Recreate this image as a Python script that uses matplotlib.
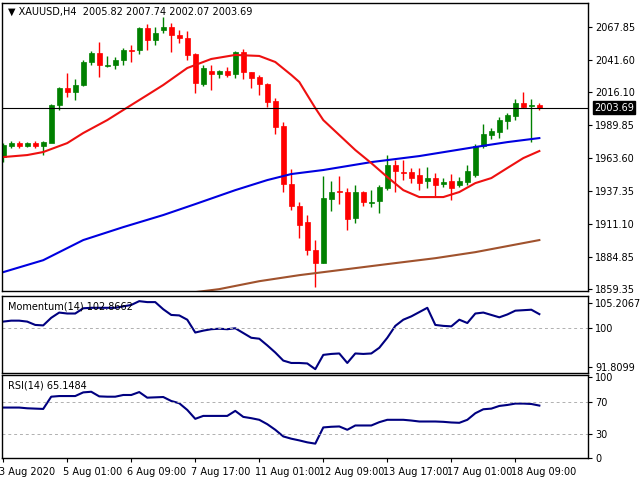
import matplotlib
matplotlib.use("Agg")
import matplotlib.pyplot as plt
import matplotlib.transforms as mt
import numpy as np

opens = [1964.4,1973.2,1975.5,1973.2,1975.5,1973.2,1975.5,2005.8,2019.3,2016.1,2021.7,2040.0,2047.2,2036.8,2037.6,2041.6,2049.5,2049.5,2067.1,2057.5,
         2065.5,2067.9,2061.5,2059.1,2046.4,2022.5,2032.8,2030.4,2032.8,2030.4,2047.9,2032.0,2028.1,2022.5,2009.0,1989.1,1942.9,1925.4,1912.7,1890.4,
         1880.1,1931.0,1937.6,1936.6,1915.9,1936.6,1927.8,1929.4,1939.7,1958.0,1952.5,1952.5,1950.1,1945.3,1947.7,1942.9,1945.3,1942.1,1944.5,1950.1,
         1973.2,1981.9,1984.3,1993.0,1997.0,2007.4,2005.0,2005.82]
highs = [1975.5,1977.1,1977.1,1976.3,1977.1,1977.1,2006.6,2020.1,2031.2,2026.5,2041.6,2048.8,2055.9,2044.8,2044.0,2051.1,2053.5,2067.9,2070.2,2067.9,
         2075.8,2071.0,2065.5,2064.7,2047.2,2037.6,2037.6,2033.6,2036.0,2048.8,2050.3,2032.4,2029.7,2023.3,2011.3,1992.3,1954.9,1928.6,1918.3,1898.4,
         1949.3,1945.3,1949.3,1939.7,1942.1,1937.3,1938.1,1942.1,1966.0,1962.0,1962.0,1955.7,1955.7,1956.5,1951.7,1947.7,1950.9,1948.5,1958.0,1974.7,
         1990.7,1987.5,1996.2,1999.4,2010.6,2016.1,2010.6,2007.74]
lows = [1960.4,1971.6,1971.6,1972.4,1971.6,1966.0,2001.0,2001.8,2012.1,2009.8,2020.9,2037.6,2028.1,2036.0,2034.4,2037.6,2040.0,2046.4,2049.5,2053.5,
        2063.1,2047.9,2055.1,2041.6,2015.3,2020.9,2017.7,2027.3,2028.1,2027.3,2026.5,2019.3,2013.7,2004.2,1982.7,1936.6,1922.2,1900.0,1886.4,1861.0,
        1880.1,1921.4,1927.0,1906.3,1911.9,1925.4,1924.6,1919.8,1938.1,1936.6,1946.1,1943.7,1938.1,1939.7,1933.4,1940.5,1930.2,1940.5,1942.1,1948.5,
        1971.6,1978.7,1979.5,1986.7,1993.8,2003.4,1976.3,2002.07]
closes = [1973.9,1975.5,1973.2,1975.5,1973.2,1976.3,2005.8,2019.3,2016.1,2021.7,2040.0,2047.2,2037.6,2037.6,2041.6,2049.5,2048.8,2067.1,2057.5,2063.1,
          2067.9,2061.5,2059.1,2045.6,2023.3,2035.2,2030.4,2032.8,2029.7,2047.9,2032.0,2027.3,2022.5,2008.2,1988.3,1942.9,1925.4,1910.3,1890.4,1880.1,
          1931.8,1936.6,1937.0,1915.1,1936.6,1928.6,1928.6,1940.5,1958.0,1953.3,1952.1,1947.7,1943.7,1947.7,1942.1,1944.5,1939.7,1945.3,1953.3,1973.2,
          1982.7,1985.1,1993.8,1997.8,2007.4,2004.2,2005.82,2003.69]

ma_red_x = [0,3,5,8,10,13,15,18,20,23,26,29,32,34,36,37,38,39,40,42,44,46,48,50,52,55,57,59,61,63,65,67]
ma_red = [1964.4,1966.0,1968.4,1975.5,1983.5,1993.8,2001.8,2013.7,2021.7,2035.2,2042.4,2045.6,2044.8,2040.0,2029.7,2024.1,2013.7,2003.4,
          1993.8,1981.9,1970.0,1959.6,1948.5,1938.1,1932.6,1932.6,1936.6,1943.7,1947.7,1955.7,1963.6,1969.2]
ma_blue_x = [0,5,10,15,20,24,29,33,36,40,46,52,59,63,67]
ma_blue = [1872.9,1882.4,1898.4,1908.7,1918.3,1927.0,1938.1,1946.1,1950.9,1954.1,1960.4,1965.2,1972.4,1976.3,1979.5]
ma_brown_x = [24,27,32,37,42,48,54,59,63,67]
ma_brown = [1857.0,1859.4,1865.7,1870.5,1874.5,1879.3,1884.0,1888.8,1893.6,1898.4]

momentum = [101.3,101.5,101.5,101.3,100.6,100.5,102.1,103.2,103.0,103.0,104.1,104.2,104.2,104.2,104.2,104.5,104.8,105.6,105.4,105.4,
            103.9,102.7,102.6,101.7,99.0,99.4,99.7,99.8,99.7,99.9,98.9,97.9,97.7,96.3,94.8,93.1,92.6,92.6,92.5,91.3,
            94.3,94.5,94.6,92.6,94.6,94.5,94.6,95.8,97.9,100.4,101.7,102.4,103.3,104.2,100.6,100.4,100.3,101.7,101.0,103.0,
            103.2,102.7,102.2,102.8,103.6,103.7,103.8,102.87]
rsi = [62.7,62.7,62.7,61.8,61.4,61.0,76.1,76.9,76.9,76.9,81.4,82.2,76.5,76.1,76.1,78.2,78.2,81.8,74.9,75.3,
       75.7,70.8,68.0,59.8,48.8,52.4,52.4,52.4,52.4,58.6,51.2,49.6,47.6,42.2,35.3,27.1,24.3,22.2,19.8,18.2,
       38.2,39.0,39.4,35.3,40.6,40.6,40.6,44.7,47.6,47.6,47.6,46.7,45.5,45.5,45.5,45.1,44.3,43.9,47.6,55.7,
       60.6,61.4,64.7,65.9,67.6,67.6,67.1,65.15]

price_ticks = [2067.85, 2041.60, 2016.10, 1989.85, 1963.60, 1937.35, 1911.10, 1884.85, 1859.35]
time_ticks = [0, 8, 16, 24, 32, 40, 48, 56, 64]
time_labels = ["3 Aug 2020", "5 Aug 01:00", "6 Aug 09:00", "7 Aug 17:00", "11 Aug 01:00",
               "12 Aug 09:00", "13 Aug 17:00", "17 Aug 01:00", "18 Aug 09:00"]
last_price = 2003.69

plt.rcParams['font.family'] = ['DejaVu Sans']
fs = 7
fig = plt.figure(figsize=(6.4, 4.8), dpi=100)
L, W = 0.003, 0.916
ax1 = fig.add_axes([L, 0.394, W, 0.600])
ax2 = fig.add_axes([L, 0.223, W, 0.160])
ax3 = fig.add_axes([L, 0.045, W, 0.174])
xl = (-0.16, 73.1)

green, red = '#008000', '#ff0000'
x = np.arange(len(opens))
for i in x:
    o, h, l, c = opens[i], highs[i], lows[i], closes[i]
    col = green if c >= o else red
    ax1.vlines(i, l, h, color=col, lw=1)
    b = max(abs(c - o), 0.5)
    ax1.bar(i, b, bottom=min(o, c), width=0.65, color=col, edgecolor=col, lw=0.5)
ax1.plot(ma_brown_x, ma_brown, color='#a0522d', lw=1.5)
ax1.plot(ma_blue_x, ma_blue, color='#0000e0', lw=1.5)
ax1.plot(ma_red_x, ma_red, color='#ee1010', lw=1.5)
ax1.axhline(last_price, color='black', lw=0.8)
ax1.set_ylim(1858, 2087)
ax1.set_yticks(price_ticks)
ax1.set_yticklabels([f"{t:.2f}" for t in price_ticks])
ax1.text(0.01, 0.985, "\u25bc XAUUSD,H4  2005.82 2007.74 2002.07 2003.69", transform=ax1.transAxes,
         fontsize=fs, va='top', ha='left')
ax1.text(1.01, last_price, f"{last_price:.2f}", transform=ax1.get_yaxis_transform(), fontsize=fs,
         va='center', ha='left', color='white',
         bbox=dict(boxstyle='square,pad=0.15', fc='black', ec='black'))

ax2.plot(x, momentum, color='#000080', lw=1.5)
ax2.axhline(100, color='#b0b0b0', lw=0.7, ls=(0, (3, 3)))
ax2.set_ylim(90.5, 106.65)
ax2.set_yticks([105.2067, 100, 91.8099])
ax2.set_yticklabels(["105.2067", "100", "91.8099"])
ax2.text(0.01, 0.93, "Momentum(14) 102.8662", transform=ax2.transAxes, fontsize=fs, va='top')

ax3.plot(x, rsi, color='#000080', lw=1.5)
for lv in (70, 30):
    ax3.axhline(lv, color='#b0b0b0', lw=0.7, ls=(0, (3, 3)))
ax3.set_ylim(0, 103)
ax3.set_yticks([100, 70, 30, 0])
ax3.text(0.01, 0.93, "RSI(14) 65.1484", transform=ax3.transAxes, fontsize=fs, va='top')

for ax in (ax1, ax2, ax3):
    ax.set_xlim(*xl)
    ax.yaxis.tick_right()
    ax.tick_params(axis='y', labelsize=fs, length=3, pad=2)
    ax.set_xticks([])
    for s in ax.spines.values():
        s.set_linewidth(1)
ax3.set_xticks(time_ticks)
ax3.set_xticklabels(time_labels, fontsize=fs, ha='left')
ax3.tick_params(axis='x', length=3, pad=3)
off = mt.ScaledTranslation(-3/72, 0, fig.dpi_scale_trans)
for lab in ax3.get_xticklabels():
    lab.set_transform(lab.get_transform() + off)

fig.savefig("out.png", dpi=100)
